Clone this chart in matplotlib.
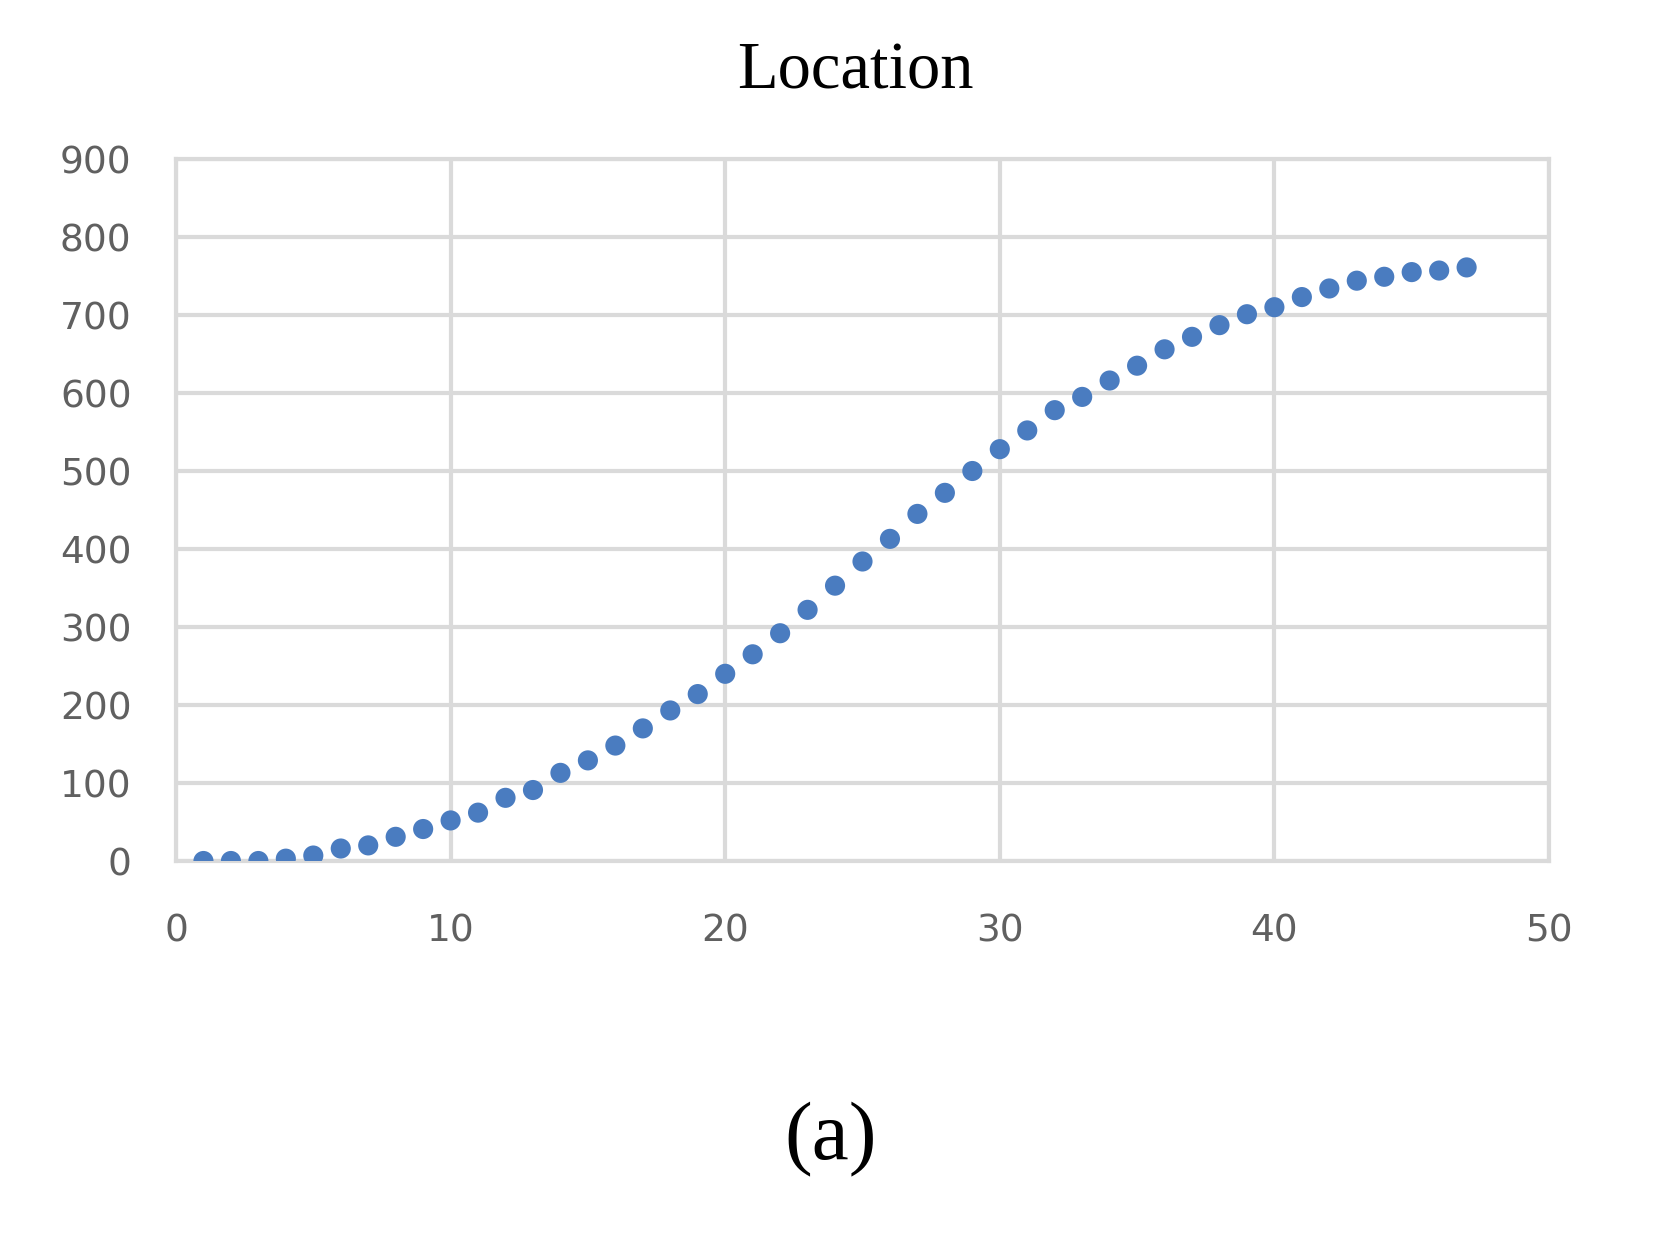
import matplotlib
matplotlib.use("Agg")
import matplotlib.pyplot as plt
import numpy as np

# data
x = list(range(1, 48))
location = [0, 0, 0, 3, 7, 16, 20, 31, 41, 52,
            62, 81, 91, 113, 129, 148, 170, 193, 214, 240,
            265, 292, 322, 353, 384, 413, 445, 472, 500, 528,
            552, 578, 595, 616, 635, 656, 672, 687, 701, 710,
            723, 734, 744, 749, 755, 757, 761]
xticks = [0, 10, 20, 30, 40, 50]
yticks = list(range(0, 901, 100))

fig = plt.figure(figsize=(16.61, 12.39), dpi=100)
ax = fig.add_axes([176/1661, 1 - 861/1239, (1549-176)/1661, (861-159)/1239])

ax.scatter(x, location, s=210, color="#4a7cc0", edgecolors="none", zorder=3)

ax.set_xlim(0, 50)
ax.set_ylim(0, 900)
ax.set_xticks(xticks)
ax.set_yticks(yticks)
ax.grid(True, color="#dadada", linewidth=3)
ax.set_axisbelow(True)
for s in ax.spines.values():
    s.set_color("#dadada")
    s.set_linewidth(3)
ax.tick_params(length=0, labelsize=27, labelcolor="#606060")
ax.tick_params(axis="y", pad=32)
ax.tick_params(axis="x", pad=38)

fig.text(0.515, 1 - 72/1239, "Location", ha="center", va="center",
         fontsize=48, family="Liberation Serif")
fig.text(0.5, 1 - 1140/1239, "(a)", ha="center", va="center",
         fontsize=60, family="Liberation Serif")

fig.savefig("out.png", dpi=100, facecolor="white")
